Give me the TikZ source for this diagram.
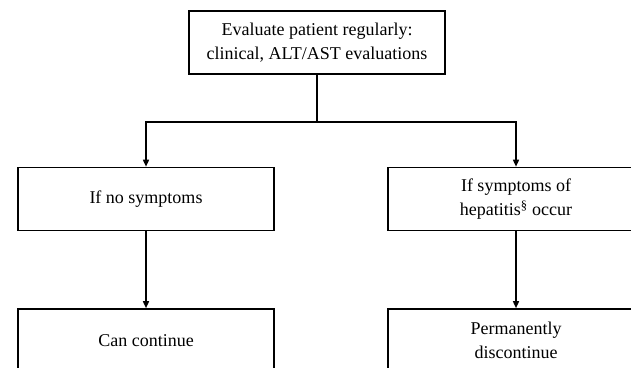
\documentclass[tikz,border=0pt]{standalone}
\usepackage{fontspec}
\setmainfont{Liberation Serif}
\usetikzlibrary{arrows.meta}
\begin{document}
\begin{tikzpicture}[x=1pt,y=-1pt,
  box/.style={draw,line width=1.6pt,minimum width=256pt,minimum height=63pt,inner sep=0pt,align=center,
    font=\fontsize{18pt}{24.5pt}\selectfont},
  conn/.style={line width=1.5pt},
  arr/.style={conn,-{Triangle[length=7pt,width=6pt]}}]
\useasboundingbox (0,0) rectangle (631,367);
\clip (0,0) rectangle (631,367);
\node[box] (top) at (317,42.5) {Evaluate patient regularly:\\clinical, ALT/AST evaluations};
\node[box] (left) at (146,199) {If no symptoms};
\node[box] (right) at (516,199) {If symptoms of\\hepatitis\textsuperscript{§} occur};
\node[box] (leftb) at (146,340.5) {Can continue};
\node[box] (rightb) at (516,340.5) {Permanently\\discontinue};
\coordinate (split) at (317,122);
\draw[conn] (top.south) -- (split);
\draw[arr] (split) -| (left.north);
\draw[arr] (split) -| (right.north);
\draw[arr] (left.south) -- (leftb.north);
\draw[arr] (right.south) -- (rightb.north);
\end{tikzpicture}
\end{document}
